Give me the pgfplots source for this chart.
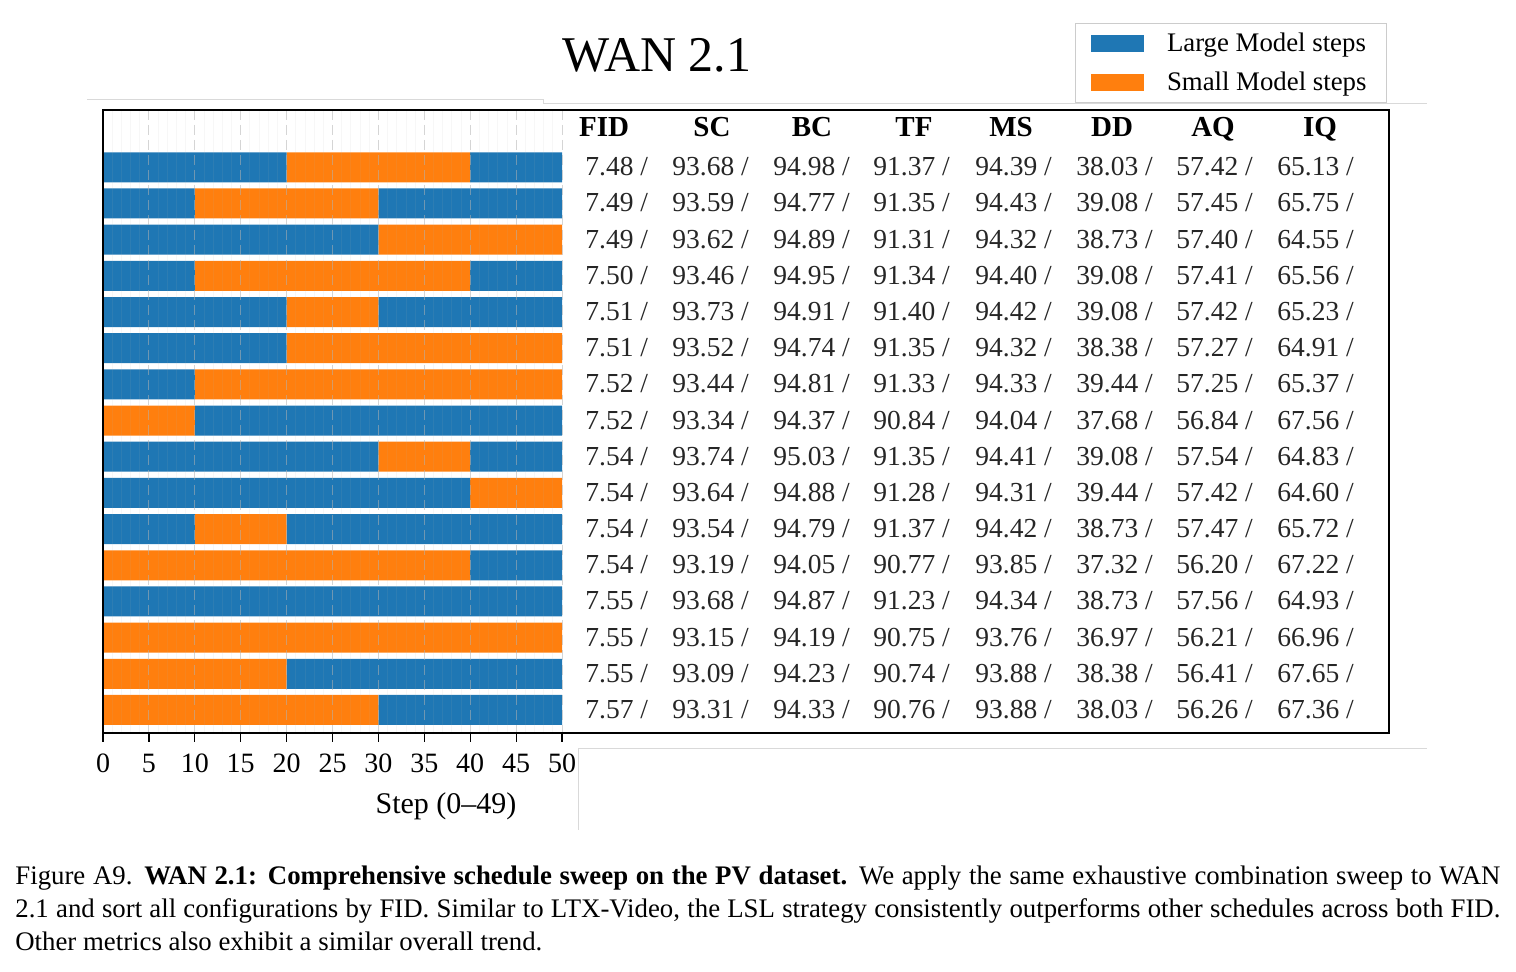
\documentclass[border=0pt]{standalone}
\usepackage{fontspec}
\setmainfont{Liberation Serif}
\usepackage{pgfplots}
\usepackage{pgfplotstable}
\pgfplotsset{compat=1.18}
\definecolor{tabblue}{HTML}{1F77B4}
\definecolor{taborange}{HTML}{FF7F0E}

% schedule per row: large steps before, small steps, large steps after
\pgfplotstableread{
row L1 S L2
1 20 20 10
2 10 20 20
3 30 20 0
4 10 30 10
5 20 10 20
6 20 30 0
7 10 40 0
8 0 10 40
9 30 10 10
10 40 10 0
11 10 10 30
12 0 40 10
13 50 0 0
14 0 50 0
15 0 20 30
16 0 30 20
}\sched

\begin{document}
\begin{tikzpicture}
\useasboundingbox (0pt,0pt) rectangle (758pt,486pt);
% faint frame lines of the original layout
\draw[gray!30, line width=0.5pt] (43.5pt,436.25pt) -- (271.5pt,436.25pt) -- (271.5pt,434pt) -- (713.5pt,434pt);
\draw[gray!30, line width=0.5pt] (289pt,71pt) -- (289pt,111.5pt) -- (713.5pt,111.5pt);

\node[anchor=base, font=\fontsize{25}{30}\selectfont] at (328.5pt,450pt) {WAN 2.1};

\begin{axis}[
  at={(51.5pt,119.5pt)}, anchor=south west,
  scale only axis, width=229.5pt, height=311.5pt,
  xbar stacked, bar width=15pt,
  xmin=0, xmax=50, ymin=-0.584, ymax=16.636, y dir=reverse,
  enlargelimits=false,
  xtick={0,5,...,50}, minor x tick num=4, ytick=\empty,
  xtick pos=bottom, tick align=outside,
  major tick length=4.5pt, minor tick length=0pt,
  tick style={black, line width=0.6pt},
  xmajorgrids, xminorgrids,
  major grid style={gray!60, opacity=0.55, line width=0.5pt, dash pattern=on 5pt off 2.5pt},
  minor grid style={gray!60, opacity=0.1, line width=0.4pt},
  axis on top,
  axis line style={draw=none},
  /pgf/number format/assume math mode=true,
  tick label style={font=\fontsize{14}{16}\selectfont},
  xticklabel style={yshift=-2.5pt},
  legend cell align=left,
  legend image code/.code={\path[#1,/tikz/.cd] (0pt,-4.25pt) rectangle (26.5pt,4.25pt);},
  legend style={at={(rel axis cs:2.7974,1.1396)}, anchor=north east,
    draw=gray!40, line width=0.5pt, inner xsep=8pt, inner ysep=2.5pt,
    font=\fontsize{13.4}{15}\selectfont, row sep=5pt,
    /tikz/every odd column/.append style={column sep=9.5pt}},
]
\addplot[fill=tabblue, draw=none] table[x=L1, y=row]{\sched};
\addplot[fill=taborange, draw=none] table[x=S, y=row]{\sched};
\addplot[fill=tabblue, draw=none] table[x=L2, y=row]{\sched};
\legend{Large Model steps, Small Model steps}
\end{axis}

% outer frame
\draw[black, line width=1pt] (51.5pt,119.5pt) rectangle (694.5pt,431pt);

% table headers
\foreach \x/\h in {302/FID, 356/SC, 406/BC, 457/TF, 505.5/MS, 556/DD, 606.5/AQ, 660/IQ}
  \node[anchor=base, inner sep=0pt, font=\bfseries\fontsize{14.5}{16}\selectfont] at (\x pt,417.5pt) {\h};

% table values
\foreach \r/\vals in {
 1/{7.48,93.68,94.98,91.37,94.39,38.03,57.42,65.13},
 2/{7.49,93.59,94.77,91.35,94.43,39.08,57.45,65.75},
 3/{7.49,93.62,94.89,91.31,94.32,38.73,57.40,64.55},
 4/{7.50,93.46,94.95,91.34,94.40,39.08,57.41,65.56},
 5/{7.51,93.73,94.91,91.40,94.42,39.08,57.42,65.23},
 6/{7.51,93.52,94.74,91.35,94.32,38.38,57.27,64.91},
 7/{7.52,93.44,94.81,91.33,94.33,39.44,57.25,65.37},
 8/{7.52,93.34,94.37,90.84,94.04,37.68,56.84,67.56},
 9/{7.54,93.74,95.03,91.35,94.41,39.08,57.54,64.83},
 10/{7.54,93.64,94.88,91.28,94.31,39.44,57.42,64.60},
 11/{7.54,93.54,94.79,91.37,94.42,38.73,57.47,65.72},
 12/{7.54,93.19,94.05,90.77,93.85,37.32,56.20,67.22},
 13/{7.55,93.68,94.87,91.23,94.34,38.73,57.56,64.93},
 14/{7.55,93.15,94.19,90.75,93.76,36.97,56.21,66.96},
 15/{7.55,93.09,94.23,90.74,93.88,38.38,56.41,67.65},
 16/{7.57,93.31,94.33,90.76,93.88,38.03,56.26,67.36}} {
  \foreach \v [count=\c] in \vals {
    \pgfmathsetmacro{\xx}{{292.5,336,386.5,436.5,487.5,538,588,638.5}[\c-1]}
    \pgfmathsetmacro{\yy}{398.1-18.09*(\r-1)}
    \node[anchor=base west, inner sep=0pt, font=\fontsize{13.75}{16}\selectfont, text=black!85] at (\xx pt,\yy pt) {\v\ /};
  }
}

\node[anchor=base, font=\fontsize{15}{18}\selectfont] at (223pt,79pt) {Step (0–49)};

\node[anchor=north west, inner sep=0pt, text width=742.5pt, align=justify,
      font=\fontsize{13.4}{16.5}\selectfont] at (7.5pt,53.3pt)
 {Figure A9. \textbf{WAN 2.1: Comprehensive schedule sweep on the PV dataset.} We apply the same exhaustive combination sweep to WAN\linebreak 2.1 and sort all configurations by FID. Similar to LTX-Video, the LSL strategy consistently outperforms other schedules across both FID.\linebreak Other metrics also exhibit a similar overall trend.};
\end{tikzpicture}
\end{document}
